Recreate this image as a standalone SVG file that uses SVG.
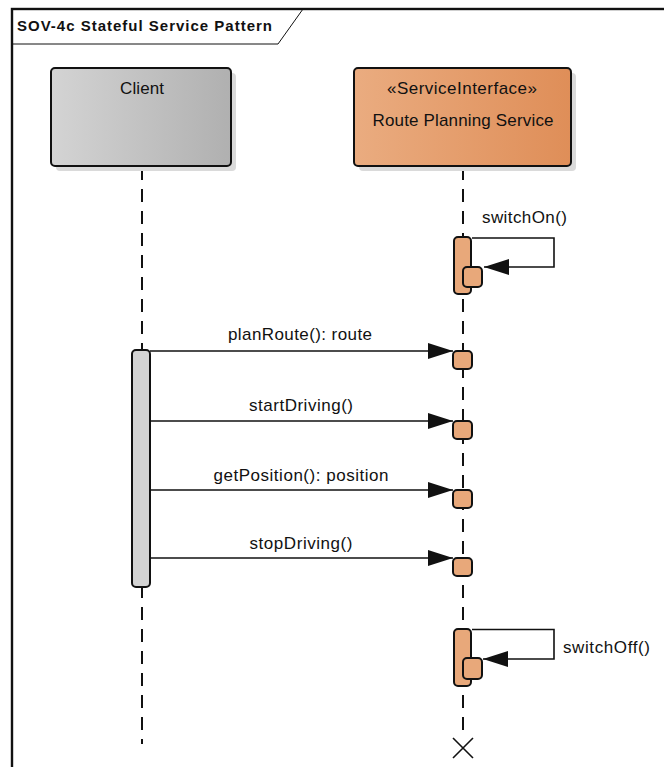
<svg xmlns="http://www.w3.org/2000/svg" width="664" height="767" viewBox="0 0 664 767">
<style>
text{font-family:"Liberation Sans",Arial,sans-serif;fill:#111}
.lbl{font-size:17px}
.title{font-size:15px;font-weight:bold}
.life{stroke:#111;stroke-width:2;stroke-dasharray:13 9;fill:none}
.msg{stroke:#111;stroke-width:1.6;fill:none}
.act{fill:#E8A87A;stroke:#111;stroke-width:2}
.actg{fill:#D3D3D3;stroke:#111;stroke-width:2}
.shadow{fill:#DADADA}
</style>
<defs>
<linearGradient id="gGrey" x1="0" y1="0" x2="1" y2="0">
<stop offset="0" stop-color="#D4D4D4"/>
<stop offset="1" stop-color="#B0B0B0"/>
</linearGradient>
<linearGradient id="gOrange" x1="0" y1="0" x2="1" y2="0">
<stop offset="0" stop-color="#EAAC80"/>
<stop offset="1" stop-color="#DF8E58"/>
</linearGradient>
<marker id="arr" markerUnits="userSpaceOnUse" markerWidth="27" markerHeight="17" refX="25" refY="8" orient="auto">
<path d="M0,0 L25,8 L0,16 z" fill="#111"/>
</marker>
</defs>
<rect width="664" height="767" fill="#fff"/>
<g id="frame">
<rect x="12" y="9" width="720" height="820" fill="none" stroke="#111" stroke-width="2.4"/>
<path d="M12,44 L278,44 L303,9" fill="none" stroke="#111" stroke-width="1"/>
<text class="title" x="17" y="31" textLength="255" lengthAdjust="spacing">SOV-4c Stateful Service Pattern</text>
</g>
<g id="lifelines">
<line class="life" x1="142" y1="167" x2="142" y2="744"/>
<line class="life" x1="463" y1="167" x2="463" y2="738"/>
</g>
<g id="client">
<rect class="shadow" x="56" y="73" width="180" height="98" rx="4"/>
<rect x="51" y="68" width="180" height="98" rx="4" fill="url(#gGrey)" stroke="#111" stroke-width="2"/>
<text class="lbl" x="142" y="94" text-anchor="middle" textLength="44" lengthAdjust="spacing">Client</text>
</g>
<g id="routePlanningService">
<rect class="shadow" x="359" y="73" width="217" height="98" rx="4"/>
<rect x="354" y="68" width="217" height="98" rx="4" fill="url(#gOrange)" stroke="#111" stroke-width="2"/>
<text class="lbl" x="462" y="94" text-anchor="middle" textLength="150" lengthAdjust="spacing">«ServiceInterface»</text>
<text class="lbl" x="463" y="126" text-anchor="middle" textLength="181" lengthAdjust="spacing">Route Planning Service</text>
</g>
<g id="clientActivation">
<rect class="actg" x="132" y="350" width="18" height="237" rx="4"/>
</g>
<g id="serviceActivations">
<rect class="act" x="454" y="237" width="17" height="57" rx="4"/>
<rect class="act" x="463" y="267" width="19" height="20" rx="4"/>
<rect class="act" x="453" y="351" width="19" height="18" rx="4"/>
<rect class="act" x="453" y="421" width="19" height="18" rx="4"/>
<rect class="act" x="453" y="490" width="19" height="18" rx="4"/>
<rect class="act" x="453" y="558" width="19" height="18" rx="4"/>
<rect class="act" x="454" y="629" width="17" height="57" rx="4"/>
<rect class="act" x="463" y="658" width="19" height="21" rx="4"/>
</g>
<g id="connectors">
<polyline class="msg" points="472,238 554,238 554,267 484,267" marker-end="url(#arr)"/>
<line class="msg" x1="150" y1="351" x2="453" y2="351" marker-end="url(#arr)"/>
<line class="msg" x1="150" y1="421" x2="453" y2="421" marker-end="url(#arr)"/>
<line class="msg" x1="150" y1="490" x2="453" y2="490" marker-end="url(#arr)"/>
<line class="msg" x1="150" y1="558" x2="453" y2="558" marker-end="url(#arr)"/>
<polyline class="msg" points="472,629.5 554,629.5 554,659 483,659" marker-end="url(#arr)"/>
<path d="M453,738 L473,758 M473,738 L453,758" stroke="#111" stroke-width="1.6" fill="none"/>
<text class="lbl" x="482" y="223" textLength="85" lengthAdjust="spacing">switchOn()</text>
<text class="lbl" x="300" y="340" text-anchor="middle" textLength="144" lengthAdjust="spacing">planRoute(): route</text>
<text class="lbl" x="301" y="411" text-anchor="middle" textLength="104" lengthAdjust="spacing">startDriving()</text>
<text class="lbl" x="301" y="481" text-anchor="middle" textLength="175" lengthAdjust="spacing">getPosition(): position</text>
<text class="lbl" x="301" y="549" text-anchor="middle" textLength="103" lengthAdjust="spacing">stopDriving()</text>
<text class="lbl" x="563" y="653" textLength="87" lengthAdjust="spacing">switchOff()</text>
</g>
</svg>
